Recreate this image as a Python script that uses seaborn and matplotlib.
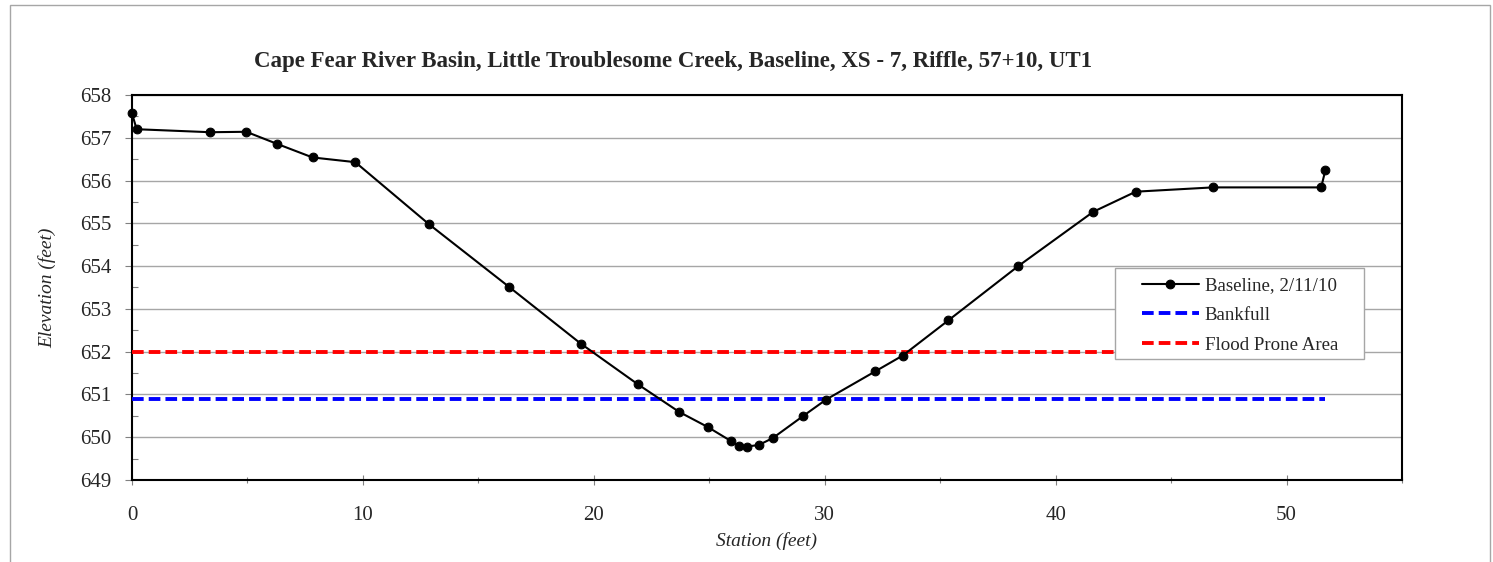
import matplotlib
matplotlib.use("Agg")
import matplotlib.pyplot as plt
import seaborn as sns
import numpy as np
import pandas as pd
from matplotlib.patches import Rectangle
from matplotlib.ticker import MultipleLocator

# Datos
station = [0.0, 0.2, 3.39, 4.95, 6.27, 7.82, 9.67, 12.86, 16.34, 19.43,
           21.9, 23.7, 24.93, 25.94, 26.27, 26.62, 27.15, 27.75, 29.05, 30.06,
           32.19, 33.38, 35.35, 38.38, 41.63, 43.47, 46.8, 51.5, 51.68]
elevation = [657.57, 657.2, 657.13, 657.14, 656.86, 656.54, 656.43, 654.98, 653.51, 652.19,
             651.24, 650.59, 650.24, 649.91, 649.8, 649.78, 649.82, 649.98, 650.49, 650.88,
             651.54, 651.91, 652.73, 654.0, 655.27, 655.74, 655.84, 655.84, 656.24]
bankfull_x = [0.0, 51.68]
bankfull_y = [650.9, 650.9]
flood_x = [0.0, 51.68]
flood_y = [652.0, 652.0]

titulo = "Cape Fear River Basin, Little Troublesome Creek, Baseline, XS - 7, Riffle, 57+10, UT1"

sns.set_style("white")
plt.rcParams['font.family'] = ['Liberation Serif', 'DejaVu Serif']

W, H = 1493, 562
fig = plt.figure(figsize=(W / 100, H / 100), dpi=100)
ax = fig.add_axes([132 / W, 1 - 480 / H, 1270 / W, 385 / H])


def ax_xy(px, py):
    # pixeles de la imagen -> coordenadas del eje
    return (px - 132) / 1270, 1 - (py - 95) / 385


# Marco gris exterior
fig.patches.append(Rectangle((10 / W, -0.1), 1480 / W, 1.1 - 5 / H,
                             transform=fig.transFigure, fill=False,
                             edgecolor='#a6a6a6', lw=1.0))

df = pd.DataFrame({'station': station, 'elevation': elevation})

sns.lineplot(data=df, x='station', y='elevation', sort=False, ax=ax,
             color='black', lw=1.5, marker='o', markersize=6.3,
             markeredgecolor='black', label='Baseline, 2/11/10', zorder=5,
             clip_on=False)
sns.lineplot(x=bankfull_x, y=bankfull_y, ax=ax, color='#0000ff', lw=2.8,
             linestyle=(0, (3, 1.3)), label='Bankfull', zorder=4)
sns.lineplot(x=flood_x, y=flood_y, ax=ax, color='#ff0000', lw=2.8,
             linestyle=(0, (3, 1.3)), label='Flood Prone Area', zorder=4)

ax.set_xlim(0, 55)
ax.set_ylim(649, 658)
ax.xaxis.set_major_locator(MultipleLocator(10))
ax.xaxis.set_minor_locator(MultipleLocator(5))
ax.yaxis.set_major_locator(MultipleLocator(1))
ax.yaxis.set_minor_locator(MultipleLocator(0.5))

ax.grid(axis='y', which='major', color='#a6a6a6', lw=1.0)
ax.grid(axis='x', visible=False)
ax.set_axisbelow(True)

for s in ax.spines.values():
    s.set_color('black')
    s.set_linewidth(1.5)

ax.tick_params(axis='x', which='major', direction='inout', length=7, width=0.8,
               color='#808080', labelsize=15, pad=15)
ax.tick_params(axis='x', which='minor', direction='inout', length=5, width=0.8,
               color='#808080')
ax.tick_params(axis='y', which='major', direction='out', length=5, width=0.8,
               color='#808080', labelsize=15, pad=10)
ax.tick_params(axis='y', which='minor', direction='in', length=4, width=0.8,
               color='#808080')
ax.tick_params(left=True, bottom=True, which='both')

fig.text(673 / W, 1 - 62 / H, titulo, ha='center', va='center',
         fontsize=16.5, fontweight='bold')
ax.set_xlabel("Station (feet)", fontsize=14, fontstyle='italic', labelpad=5)
ax.set_ylabel("Elevation (feet)", fontsize=14, fontstyle='italic', labelpad=17)

# Leyenda con marco propio
x0, y0 = ax_xy(1115, 359)
x1, y1 = ax_xy(1364, 268)
marco = Rectangle((x0, y0), x1 - x0, y1 - y0, transform=ax.transAxes,
                  facecolor='white', edgecolor='#a6a6a6', lw=1.0, zorder=9)
ax.add_patch(marco)

leg = ax.legend(loc='upper left', bbox_to_anchor=ax_xy(1142, 277),
                fontsize=13.6, frameon=False, borderpad=0, labelspacing=0.66,
                handlelength=3.0, handletextpad=0.32, borderaxespad=0)
leg.set_zorder(10)

fig.savefig("out.png", dpi=100)
